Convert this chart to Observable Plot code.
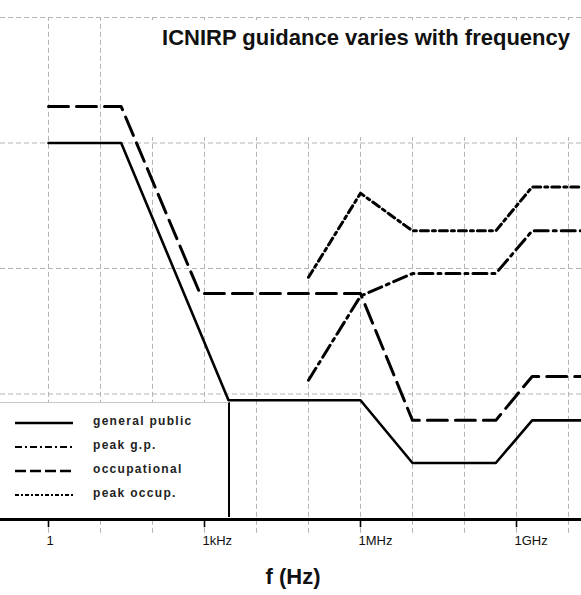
<!DOCTYPE html>
<html>
<head>
<meta charset="utf-8">
<script src="https://cdn.jsdelivr.net/npm/d3@7"></script>
<script src="https://cdn.jsdelivr.net/npm/@observablehq/plot@0.6"></script>
<style>
  html, body { margin: 0; padding: 0; background: #fff; }
  #wrap { position: relative; width: 581px; height: 595px; font-family: "Liberation Sans", Arial, sans-serif; }
  #titlebox { position: absolute; left: 140px; top: 20px; width: 441px; height: 117px; background: #fff; }
  #title { position: absolute; right: 11px; top: 5px; font-size: 22px; font-weight: bold; color: #111; white-space: nowrap; }
  #legend { position: absolute; left: 0; top: 402px; width: 230px; height: 115px; background: #fff;
            border-top: 1px solid #c8c8c8; border-right: 2px solid #000; box-sizing: border-box; }
  .row { position: absolute; left: 0; height: 14px; width: 228px; }
  .row svg { position: absolute; left: 15px; top: 0; }
  .row span { position: absolute; left: 93px; top: -2px; font-size: 12px; font-weight: bold; letter-spacing: 1.3px; color: #222; white-space: nowrap; }
</style>
</head>
<body>
<div id="wrap">
  <div id="chart"></div>
  <div id="titlebox"><div id="title">ICNIRP guidance varies with frequency</div></div>
  <div id="legend"></div>
</div>
<script>
// ---- data (x: frequency in Hz, y: level in decades, arbitrary reference) ----
const seriesNames = ["general public", "peak g.p.", "occupational", "peak occup."];

const generalPublicF = [1, 25, 2900, 1e6, 1e7, 4e8, 2e9, 3e10];
const generalPublicV = [3.0, 3.0, 0.95, 0.95, 0.45, 0.45, 0.79, 0.79];

const occupationalF = [1, 25, 820, 1e6, 1e7, 4e8, 2e9, 3e10];
const occupationalV = [3.29, 3.29, 1.8, 1.8, 0.79, 0.79, 1.14, 1.14];

const peakGpF = [1e5, 1e6, 1e7, 4e8, 2e9, 3e10];
const peakGpV = [1.11, 1.78, 1.96, 1.96, 2.3, 2.3];

const peakOccF = [1e5, 1e6, 1e7, 4e8, 2e9, 3e10];
const peakOccV = [1.93, 2.6, 2.3, 2.3, 2.65, 2.65];

const gridDecades = [1, 10, 100, 1e3, 1e4, 1e5, 1e6, 1e7, 1e8, 1e9, 1e10];
const gridLevels = [1, 2, 3, 4];
const tickValues = [1, 1e3, 1e6, 1e9];
const tickLabels = ["1", "1kHz", "1MHz", "1GHz"];
const axisTitle = "f (Hz)";

// ---- build tables ----
const toRows = (fs, vs) => fs.map((f, i) => ({f, v: vs[i]}));
const gp = toRows(generalPublicF, generalPublicV);
const occ = toRows(occupationalF, occupationalV);
const pgp = toRows(peakGpF, peakGpV);
const pocc = toRows(peakOccF, peakOccV);
const ticks = tickValues.map((f, i) => ({f, label: tickLabels[i]}));

const styles = {
  "general public": {dash: null, width: 2.6, legendDash: null, legendWidth: 2.4},
  "peak g.p.": {dash: "14,5,3,5", width: 3, legendDash: "7,3,2,3", legendWidth: 2},
  "occupational": {dash: "20,8", width: 3, legendDash: "11,4", legendWidth: 2.4},
  "peak occup.": {dash: "8,4,3,4", width: 3, legendDash: "4,2,2,2", legendWidth: 2}
};

const gridStroke = "#b4b4b4";
const gridDash = "5,3";

const chart = Plot.plot({
  width: 581,
  height: 595,
  marginLeft: 0,
  marginRight: 0,
  marginTop: 17,
  marginBottom: 76,
  x: {type: "log", domain: [Math.pow(10, -48 / 52), Math.pow(10, 533 / 52)], axis: null},
  y: {domain: [0, 4], axis: null},
  clip: false,
  style: {fontFamily: "Liberation Sans, Arial, sans-serif", background: "#fff", overflow: "visible"},
  marks: [
    Plot.ruleX(gridDecades, {x: d => d, y1: -0.11, y2: 4, stroke: gridStroke, strokeWidth: 1, strokeDasharray: gridDash}),
    Plot.ruleY(gridLevels, {y: d => d, stroke: gridStroke, strokeWidth: 1, strokeDasharray: gridDash}),
    Plot.line(gp, {x: "f", y: "v", stroke: "#000", strokeWidth: styles["general public"].width, clip: true}),
    Plot.line(occ, {x: "f", y: "v", stroke: "#000", strokeWidth: styles["occupational"].width, strokeDasharray: styles["occupational"].dash, clip: true}),
    Plot.line(pgp, {x: "f", y: "v", stroke: "#000", strokeWidth: styles["peak g.p."].width, strokeDasharray: styles["peak g.p."].dash, clip: true}),
    Plot.line(pocc, {x: "f", y: "v", stroke: "#000", strokeWidth: styles["peak occup."].width, strokeDasharray: styles["peak occup."].dash, clip: true}),
    Plot.ruleY([0], {stroke: "#000", strokeWidth: 3}),
    Plot.ruleX(ticks, {x: "f", y1: 0, y2: -0.065, stroke: "#000", strokeWidth: 1.6}),
    Plot.text(ticks, {x: "f", text: "label", frameAnchor: "bottom", dy: 21, dx: -2, textAnchor: "start", lineAnchor: "middle", fontSize: 13, fill: "#111"}),
    Plot.text([axisTitle], {text: d => d, frameAnchor: "bottom", dx: 2, dy: 57, lineAnchor: "middle", fontSize: 22, fontWeight: "bold", fill: "#111", letterSpacing: "1.5px"})
  ]
});
document.getElementById("chart").appendChild(chart);

// ---- legend ----
const legend = document.getElementById("legend");
const rowTops = [14, 38, 62, 86];
seriesNames.forEach((name, i) => {
  const s = styles[name];
  const row = document.createElement("div");
  row.className = "row";
  row.style.top = (rowTops[i] - 1) + "px";
  const ns = "http://www.w3.org/2000/svg";
  const svg = document.createElementNS(ns, "svg");
  svg.setAttribute("width", "60");
  svg.setAttribute("height", "14");
  const ln = document.createElementNS(ns, "line");
  ln.setAttribute("x1", "0"); ln.setAttribute("x2", "58");
  ln.setAttribute("y1", "7"); ln.setAttribute("y2", "7");
  ln.setAttribute("stroke", "#000");
  ln.setAttribute("stroke-width", s.legendWidth);
  if (s.legendDash) ln.setAttribute("stroke-dasharray", s.legendDash);
  svg.appendChild(ln);
  row.appendChild(svg);
  const sp = document.createElement("span");
  sp.textContent = name;
  row.appendChild(sp);
  legend.appendChild(row);
});
</script>
</body>
</html>
